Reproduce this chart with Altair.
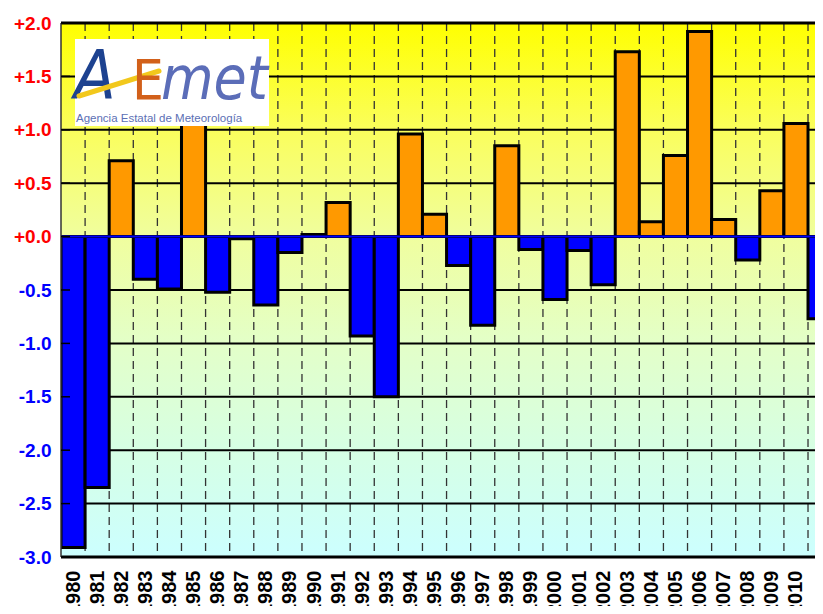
import altair as alt
import pandas as pd

years = list(range(1980, 2012))
anomalies = [-2.91, -2.35, 0.71, -0.40, -0.49, 1.20, -0.52, -0.02, -0.64, -0.15,
             0.02, 0.32, -0.93, -1.50, 0.96, 0.21, -0.27, -0.83, 0.85, -0.12,
             -0.59, -0.13, -0.45, 1.73, 0.14, 0.76, 1.92, 0.16, -0.22, 0.43,
             1.06, -0.77]
y_ticks = [2.0, 1.5, 1.0, 0.5, 0.0, -0.5, -1.0, -1.5, -2.0, -2.5, -3.0]
logo_title = "Agencia Estatal de Meteorología"

W, H = 754, 534
X_DOMAIN = [1979.5, 2010.79]

bars = pd.DataFrame({"year": years, "value": anomalies})
ticks = pd.DataFrame({"v": y_ticks})
one = pd.DataFrame({"k": [0]})

xs = alt.Scale(domain=X_DOMAIN, nice=False, zero=False)
ys = alt.Scale(domain=[-3, 2], nice=False, zero=False)

gradient = {
    "gradient": "linear", "x1": 0, "y1": 0, "x2": 0, "y2": 1,
    "stops": [
        {"offset": 0.0, "color": "#ffff00"},
        {"offset": 0.2, "color": "#fafe5c"},
        {"offset": 0.4, "color": "#f0fe9e"},
        {"offset": 0.6, "color": "#e3ffc8"},
        {"offset": 0.8, "color": "#d6ffe4"},
        {"offset": 1.0, "color": "#ccffff"},
    ],
}

bg = alt.Chart(one).mark_rect(color=gradient).encode(
    x=alt.value(0), x2=alt.value(W), y=alt.value(0), y2=alt.value(H)
)


def x_axis():
    return alt.Axis(
        values=years, format="d", title="", domain=False, ticks=False, grid=False,
        labelAngle=-90, labelAlign="right", labelBaseline="middle",
        labelPadding=13, labelFont="Liberation Sans", labelFontWeight="bold",
        labelFontSize=20, labelColor="black", labelOverlap=False, labelFlush=False,
    )


def y_axis():
    return alt.Axis(
        values=y_ticks, title="", domain=False, ticks=False, grid=False,
        labelPadding=10, labelFont="Liberation Sans", labelFontWeight="bold",
        labelFontSize=19, labelOverlap=False,
        labelExpr="datum.value >= 0 ? '+' + format(datum.value, '.1f') : '-' + format(abs(datum.value), '.1f')",
        labelColor=alt.ExprRef("datum.value >= 0 ? '#ff0000' : '#0000ff'"),
    )


vlines = alt.Chart(bars).transform_calculate(b="datum.year + 0.5").mark_rule(
    color="#333333", strokeWidth=1.3, strokeDash=[8, 5], clip=True
).encode(
    x=alt.X("b:Q", scale=xs, axis=x_axis()),
    y=alt.value(0), y2=alt.value(H),
)

hlines = alt.Chart(ticks).mark_rule(color="black", strokeWidth=2).encode(
    y=alt.Y("v:Q", scale=ys, axis=y_axis()),
    x=alt.value(0), x2=alt.value(W),
)

barlayer = alt.Chart(bars).transform_calculate(
    x0="datum.year - 0.5", x1="datum.year + 0.5", zero="0"
).mark_rect(stroke="black", strokeWidth=3, clip=True).encode(
    x=alt.X("x0:Q", scale=xs, axis=x_axis()),
    x2="x1:Q",
    y=alt.Y("zero:Q", scale=ys, axis=y_axis()),
    y2="value:Q",
    color=alt.condition("datum.value >= 0", alt.value("#ff9900"), alt.value("#0000ff")),
)

zero_line = alt.Chart(one).transform_calculate(z="0").mark_rule(
    color="#0000ff", strokeWidth=2
).encode(y=alt.Y("z:Q", scale=ys, axis=y_axis()), x=alt.value(0), x2=alt.value(W))

borders = alt.Chart(pd.DataFrame({"v": [2.0, -3.0]})).mark_rule(
    color="black", strokeWidth=3
).encode(y=alt.Y("v:Q", scale=ys, axis=y_axis()), x=alt.value(0), x2=alt.value(W))

left_border = alt.Chart(one).mark_rule(color="#333333", strokeWidth=1.5).encode(
    x=alt.value(0), y=alt.value(0), y2=alt.value(H)
)

inner_ticks = alt.Chart(ticks).mark_rule(color="black", strokeWidth=1.5).encode(
    y=alt.Y("v:Q", scale=ys, axis=y_axis()), x=alt.value(0), x2=alt.value(9)
)

logo_box = alt.Chart(one).mark_rect(color="white").encode(
    x=alt.value(14), x2=alt.value(208), y=alt.value(16), y2=alt.value(103)
)
logo_A = alt.Chart(one).mark_text(
    text="A", font="DejaVu Sans Condensed", fontSize=68, fontStyle="italic",
    color="#1d4290", align="left", baseline="alphabetic"
).encode(x=alt.value(13), y=alt.value(76))
swoosh = alt.Chart(one).mark_rule(color="#f2c81c", strokeWidth=5, strokeCap="round").encode(
    x=alt.value(18), y=alt.value(73), x2=alt.value(98), y2=alt.value(48)
)
logo_E = alt.Chart(one).mark_text(
    text="E", font="DejaVu Sans Condensed", fontSize=56,
    color="#d2601a", align="left", baseline="alphabetic"
).encode(x=alt.value(71), y=alt.value(76))
logo_met = alt.Chart(one).mark_text(
    text="met", font="DejaVu Sans Condensed", fontSize=60, fontStyle="italic",
    color="#5b6db8", align="left", baseline="alphabetic"
).encode(x=alt.value(100), y=alt.value(76))
logo_sub = alt.Chart(one).mark_text(
    text=logo_title, font="Liberation Sans", fontSize=11.5,
    color="#5c6fb5", align="left", baseline="alphabetic"
).encode(x=alt.value(15), y=alt.value(99))

chart = alt.layer(
    bg, vlines, hlines, barlayer, zero_line, borders, left_border, inner_ticks,
    logo_box, logo_A, swoosh, logo_E, logo_met, logo_sub
).resolve_scale(x="shared", y="shared").properties(
    width=W, height=H,
    autosize=alt.AutoSizeParams(type="none"),
    padding={"left": 53, "top": 15, "right": 0, "bottom": 49},
    background="white",
).configure_view(stroke=None)

chart.save("out.html", embed_options={"renderer": "svg", "actions": False})
